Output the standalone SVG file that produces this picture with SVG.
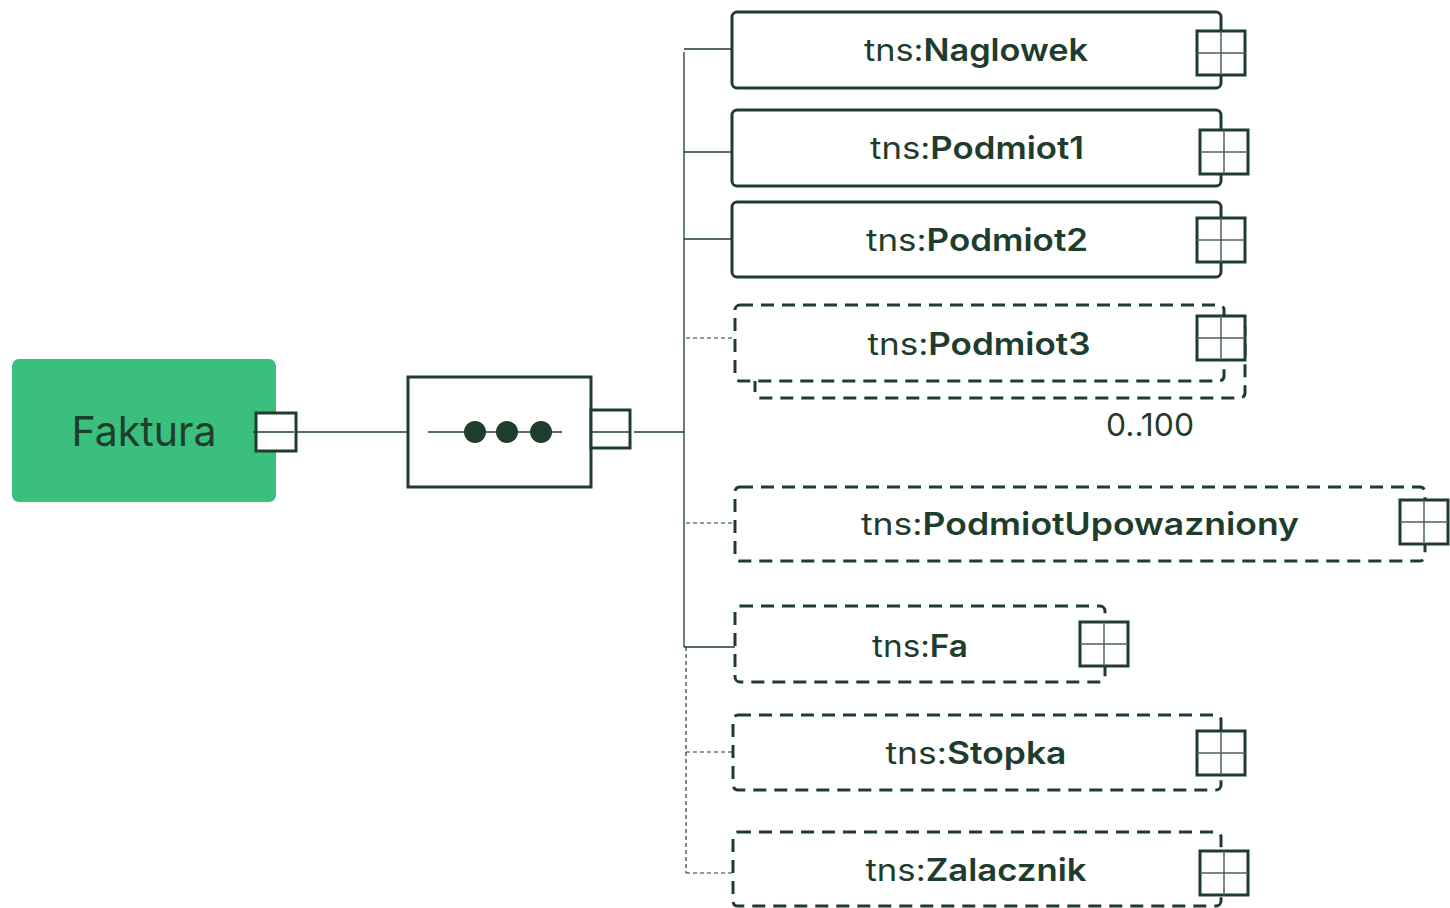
<svg xmlns="http://www.w3.org/2000/svg" width="1450" height="908" viewBox="0 0 1450 908">
<style>
.t{font-family:Inter,"Liberation Sans",sans-serif;font-size:31px;fill:#1e3d2c;text-anchor:middle}
.b{font-weight:600}
.box{fill:#fff;stroke:#1e3d2c;stroke-width:3}
.dbox{fill:#fff;stroke:#1e3d2c;stroke-width:3;stroke-dasharray:13 8}
.sq{fill:#fff;stroke:#1e3d2c;stroke-width:3}
.cr{stroke:#4a6354;stroke-width:1.5;fill:none}
.ln{stroke:#1e3d2c;stroke-width:1.3;fill:none}
.dl{stroke:#1e3d2c;stroke-width:1.2;fill:none;stroke-dasharray:4 3}
</style>
<defs>
<g id="plus"><rect class="sq" x="0" y="0" width="48" height="44"/><line class="cr" x1="24" y1="0" x2="24" y2="44"/><line class="cr" x1="0" y1="22" x2="48" y2="22"/></g>
</defs>
<g id="connectors">
<line class="ln" x1="297" y1="432" x2="408" y2="432"/>
<line class="ln" x1="634" y1="432" x2="684" y2="432"/>
<line class="ln" x1="684" y1="52" x2="684" y2="647"/>
<line class="dl" x1="686" y1="647" x2="686" y2="873"/>
<line class="ln" x1="684" y1="49" x2="732" y2="49"/>
<line class="ln" x1="684" y1="152" x2="732" y2="152"/>
<line class="ln" x1="684" y1="239" x2="732" y2="239"/>
<line class="dl" x1="686" y1="338" x2="735" y2="338"/>
<line class="dl" x1="686" y1="523" x2="735" y2="523"/>
<line class="ln" x1="684" y1="647" x2="735" y2="647"/>
<line class="dl" x1="686" y1="752" x2="733" y2="752"/>
<line class="dl" x1="686" y1="873" x2="733" y2="873"/>
</g>
<g id="faktura">
<rect x="12" y="359" width="264" height="143" rx="7" fill="#3bbf7c"/>
<text class="t" x="144" y="446" style="font-size:41px;font-weight:400" textLength="145" lengthAdjust="spacingAndGlyphs">Faktura</text>
<rect class="sq" x="256" y="413" width="40" height="38"/>
<line class="ln" x1="253" y1="432" x2="294" y2="432"/>
</g>
<g id="sequence">
<rect class="box" x="408" y="377" width="183" height="110"/>
<line class="ln" x1="428" y1="432" x2="562" y2="432"/>
<circle cx="475" cy="432" r="11" fill="#1e3d2c"/>
<circle cx="507" cy="432" r="11" fill="#1e3d2c"/>
<circle cx="541" cy="432" r="11" fill="#1e3d2c"/>
<rect class="sq" x="591" y="410" width="39" height="38"/>
<line class="ln" x1="591" y1="432" x2="630" y2="432"/>
</g>
<g id="naglowek">
<rect class="box" x="732" y="12" width="489" height="76" rx="5"/>
<text class="t" x="976" y="61" textLength="224" lengthAdjust="spacingAndGlyphs">tns:<tspan class="b">Naglowek</tspan></text>
<use href="#plus" x="1197" y="31"/>
</g>
<g id="podmiot1">
<rect class="box" x="732" y="110" width="489" height="76" rx="5"/>
<text class="t" x="977" y="159" textLength="214" lengthAdjust="spacingAndGlyphs">tns:<tspan class="b">Podmiot1</tspan></text>
<use href="#plus" x="1200" y="130"/>
</g>
<g id="podmiot2">
<rect class="box" x="732" y="202" width="489" height="75" rx="5"/>
<text class="t" x="977" y="251" textLength="222" lengthAdjust="spacingAndGlyphs">tns:<tspan class="b">Podmiot2</tspan></text>
<use href="#plus" x="1197" y="218"/>
</g>
<g id="podmiot3">
<rect class="dbox" x="755" y="322" width="490" height="76" rx="5"/>
<rect class="dbox" x="735" y="305" width="489" height="76" rx="5"/>
<text class="t" x="979" y="355" textLength="223" lengthAdjust="spacingAndGlyphs">tns:<tspan class="b">Podmiot3</tspan></text>
<use href="#plus" x="1197" y="316"/>
<text class="t" x="1150" y="436" textLength="88" lengthAdjust="spacingAndGlyphs">0..100</text>
</g>
<g id="podmiotupowazniony">
<rect class="dbox" x="735" y="487" width="690" height="74" rx="5"/>
<text class="t" x="1080" y="535" textLength="438" lengthAdjust="spacingAndGlyphs">tns:<tspan class="b">PodmiotUpowazniony</tspan></text>
<use href="#plus" x="1400" y="500"/>
</g>
<g id="fa">
<rect class="dbox" x="735" y="606" width="370" height="76" rx="5"/>
<text class="t" x="920" y="657" textLength="96" lengthAdjust="spacingAndGlyphs">tns:<tspan class="b">Fa</tspan></text>
<use href="#plus" x="1080" y="622"/>
</g>
<g id="stopka">
<rect class="dbox" x="733" y="715" width="488" height="75" rx="5"/>
<text class="t" x="976" y="764" textLength="181" lengthAdjust="spacingAndGlyphs">tns:<tspan class="b">Stopka</tspan></text>
<use href="#plus" x="1197" y="731"/>
</g>
<g id="zalacznik">
<rect class="dbox" x="733" y="832" width="488" height="74" rx="5"/>
<text class="t" x="976" y="881" textLength="221" lengthAdjust="spacingAndGlyphs">tns:<tspan class="b">Zalacznik</tspan></text>
<use href="#plus" x="1200" y="851"/>
</g>
</svg>
